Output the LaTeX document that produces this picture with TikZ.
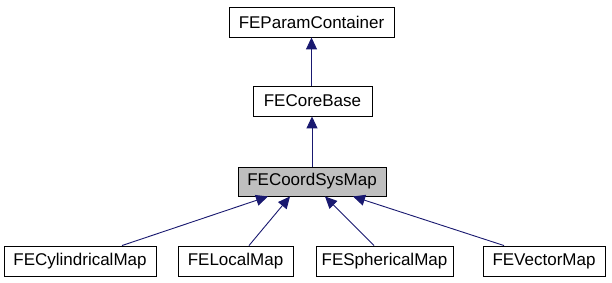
\documentclass[tikz,border=0pt]{standalone}
\usepackage{fontspec}
\setmainfont{Liberation Sans}
\usetikzlibrary{arrows.meta}
\definecolor{edgeblue}{HTML}{191970}
\definecolor{focusgray}{HTML}{BFBFBF}
\tikzset{
  classbox/.style={draw=black, line width=0.9pt, fill=white, minimum height=30pt,
    inner sep=0pt, font=\fontsize{17}{19}\selectfont, anchor=center},
  focusbox/.style={classbox, fill=focusgray, minimum height=29pt},
  inherit/.style={draw=edgeblue, line width=0.9pt,
    -{Triangle[length=12pt,width=11pt]}, edgeblue}
}
\begin{document}
\begin{tikzpicture}[x=1pt,y=1pt]
  \useasboundingbox (0,0) rectangle (612,-283);
  \fill[white] (0,0) rectangle (612,-283);
  % class nodes
  \node[classbox, minimum width=165pt] (pc)  at (311.5,-22) {FEParamContainer};
  \node[classbox, minimum width=119pt] (cb)  at (312.5,-101) {FECoreBase};
  \node[focusbox, minimum width=148pt] (csm) at (312,-181.5) {FECoordSysMap};
  \node[classbox, minimum width=152pt] (cyl) at (80,-261) {FECylindricalMap};
  \node[classbox, minimum width=115pt] (loc) at (235.5,-261) {FELocalMap};
  \node[classbox, minimum width=137pt] (sph) at (384.5,-261) {FESphericalMap};
  \node[classbox, minimum width=122pt] (vec) at (544,-261) {FEVectorMap};
  % inheritance edges (child -> parent)
  \draw[inherit] (cb.north -| pc.south) -- (pc.south);
  \draw[inherit] (csm.north) -- (csm.north |- cb.south);
  \draw[inherit] ([xshift=42pt]cyl.north) -- ([xshift=-44pt]csm.south);
  \draw[inherit] ([xshift=13.5pt]loc.north) -- ([xshift=-22pt]csm.south);
  \draw[inherit] ([xshift=-10.5pt]sph.north) -- ([xshift=13pt]csm.south);
  \draw[inherit] ([xshift=-40pt]vec.north) -- ([xshift=41pt]csm.south);
\end{tikzpicture}
\end{document}
